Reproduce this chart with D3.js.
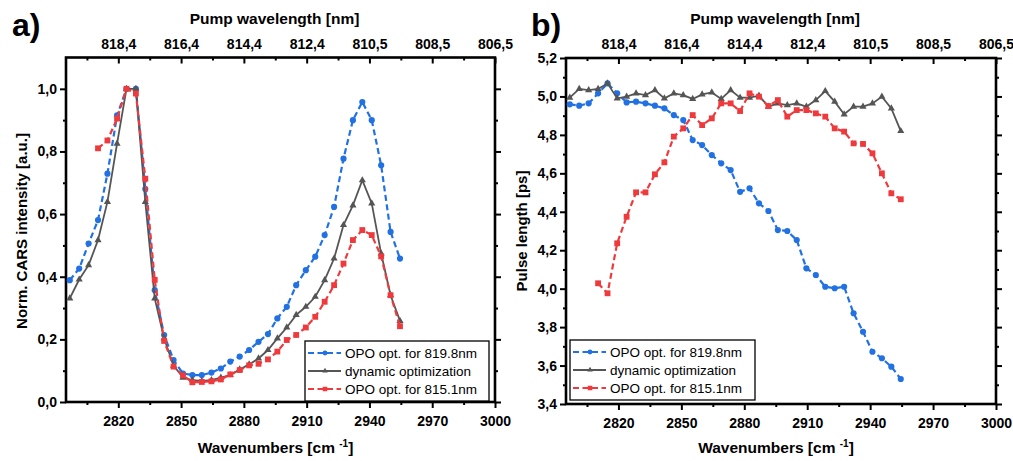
<!DOCTYPE html>
<html>
<head>
<meta charset="utf-8">
<script src="https://cdn.jsdelivr.net/npm/d3@7"></script>
<style>
  body { margin: 0; background: #fff; }
  svg { display: block; font-family: "Liberation Sans", Arial, sans-serif; }
</style>
</head>
<body>
<svg id="chart" width="1013" height="461"></svg>
<script>
// wavenumber grid of the measurement (cm^-1)
const wavenumbers = [2796.8, 2801.3, 2805.8, 2810.3, 2814.8, 2819.4, 2823.9, 2828.4, 2832.9, 2837.4,
  2841.9, 2846.4, 2850.9, 2855.4, 2859.9, 2864.5, 2869.0, 2873.5, 2878.0, 2882.5,
  2887.0, 2891.5, 2896.0, 2900.5, 2905.0, 2909.6, 2914.1, 2918.6, 2923.1, 2927.6,
  2932.1, 2936.6, 2941.1, 2945.6, 2950.1, 2954.6];
// the 815.1nm run starts later
const wavenumbers815 = wavenumbers.slice(3);

// a) normalized CARS intensity
const cars819 = [0.389, 0.426, 0.506, 0.581, 0.729, 0.915, 1.0, 1.0, 0.68, 0.357,
  0.214, 0.134, 0.091, 0.086, 0.086, 0.094, 0.107, 0.129, 0.145, 0.166,
  0.192, 0.217, 0.267, 0.304, 0.373, 0.421, 0.464, 0.533, 0.623, 0.777,
  0.900, 0.958, 0.900, 0.756, 0.543, 0.458];
const carsDynamic = [0.331, 0.391, 0.437, 0.517, 0.639, 0.825, 1.0, 1.0, 0.639, 0.331,
  0.203, 0.116, 0.078, 0.070, 0.067, 0.070, 0.078, 0.086, 0.104, 0.120,
  0.139, 0.166, 0.203, 0.238, 0.278, 0.304, 0.336, 0.389, 0.458, 0.565,
  0.628, 0.708, 0.634, 0.474, 0.341, 0.259];
const cars815 = [0.81, 0.835, 0.905, 1.0, 0.985, 0.713, 0.39,
  0.195, 0.113, 0.085, 0.063, 0.064, 0.066, 0.072, 0.088, 0.102, 0.117,
  0.122, 0.136, 0.161, 0.198, 0.214, 0.238, 0.272, 0.320, 0.373, 0.442,
  0.517, 0.549, 0.533, 0.465, 0.341, 0.242];

// b) pulse length (ps)
const pulse819 = [4.959, 4.952, 4.964, 5.016, 5.068, 5.016, 4.969, 4.973, 4.964, 4.952,
  4.938, 4.903, 4.877, 4.773, 4.747, 4.695, 4.652, 4.617, 4.504, 4.522,
  4.444, 4.404, 4.305, 4.300, 4.253, 4.106, 4.071, 4.010, 4.002, 4.010,
  3.872, 3.776, 3.672, 3.638, 3.594, 3.530];
const pulseDynamic = [4.994, 5.039, 5.033, 5.039, 5.068, 4.990, 4.999, 5.016, 5.007, 5.033,
  4.990, 5.016, 5.007, 4.987, 5.011, 5.021, 4.987, 5.033, 4.994, 4.994,
  5.004, 4.947, 4.964, 4.955, 4.964, 4.947, 4.981, 5.028, 4.973, 4.907,
  4.947, 4.947, 4.964, 4.999, 4.938, 4.820];
const pulse815 = [4.028, 3.976, 4.236, 4.374, 4.501, 4.501, 4.595,
  4.657, 4.791, 4.834, 4.903, 4.851, 4.886, 4.964, 4.964, 4.924, 5.016,
  4.999, 4.950, 4.981, 4.895, 4.929, 4.929, 4.912, 4.895, 4.834, 4.817,
  4.756, 4.753, 4.704, 4.600, 4.496, 4.465];

const seriesNames = ["OPO opt. for 819.8nm", "dynamic optimization", "OPO opt. for 815.1nm"];
const wavenumberTicks = [2820, 2850, 2880, 2910, 2940, 2970, 3000];
const wavenumberMinor = [2805, 2835, 2865, 2895, 2925, 2955, 2985];
const pumpTickLabels = ["818,4", "816,4", "814,4", "812,4", "810,5", "808,5", "806,5"];
const carsTicks = [0, 0.2, 0.4, 0.6, 0.8, 1.0];
const carsMinor = [0.1, 0.3, 0.5, 0.7, 0.9];
const pulseTicks = [3.4, 3.6, 3.8, 4.0, 4.2, 4.4, 4.6, 4.8, 5.0, 5.2];
const pulseMinor = [3.5, 3.7, 3.9, 4.1, 4.3, 4.5, 4.7, 4.9, 5.1];

const colors = ["#2271e3", "#555555", "#ef3a3d"];
const dashes = ["6,3.5", null, "6,3.5"];
const markers = [d3.symbolCircle, d3.symbolTriangle, d3.symbolSquare];
const markerSizes = [30, 22, 34];

const locale = d3.formatLocale({decimal: ",", thousands: ".", grouping: [3], currency: ["", ""]});
const fmt1 = locale.format(".1f");

const svg = d3.select("#chart");
svg.append("rect").attr("width", 1013).attr("height", 461).attr("fill", "#fff");

function drawPanel(p) {
  const x = d3.scaleLinear().domain([2795, 3000]).range([p.left, p.right]);
  const y = d3.scaleLinear().domain(p.yDomain).range([p.bottom, p.top]);
  const g = svg.append("g");

  function styleAxis(sel) {
    sel.select(".domain").remove();
    sel.selectAll("line").attr("stroke", "#000").attr("stroke-width", 2);
    sel.selectAll("text").attr("fill", "#000").style("font-size", "14px").style("font-weight", "bold");
  }

  // bottom
  g.append("g").attr("transform", `translate(0,${p.bottom})`)
    .call(d3.axisBottom(x).tickValues(wavenumberTicks).tickFormat(d3.format("d"))
      .tickSizeInner(6).tickSizeOuter(0).tickPadding(8))
    .call(styleAxis);
  g.append("g").attr("transform", `translate(0,${p.bottom})`)
    .call(d3.axisBottom(x).tickValues(wavenumberMinor).tickFormat("").tickSize(3))
    .call(styleAxis);

  // top (pump wavelength), ticks point inside
  g.append("g").attr("transform", `translate(0,${p.top})`)
    .call(d3.axisTop(x).tickValues(wavenumberTicks).tickFormat((d, i) => pumpTickLabels[i])
      .tickSizeInner(-6).tickSizeOuter(0).tickPadding(9))
    .call(styleAxis);
  g.append("g").attr("transform", `translate(0,${p.top})`)
    .call(d3.axisTop(x).tickValues(wavenumberMinor).tickFormat("").tickSize(-3))
    .call(styleAxis);

  // left
  g.append("g").attr("transform", `translate(${p.left},0)`)
    .call(d3.axisLeft(y).tickValues(p.yTicks).tickFormat(fmt1)
      .tickSizeInner(6).tickSizeOuter(0).tickPadding(3))
    .call(styleAxis);
  g.append("g").attr("transform", `translate(${p.left},0)`)
    .call(d3.axisLeft(y).tickValues(p.yMinor).tickFormat("").tickSize(3))
    .call(styleAxis);

  // right, no labels
  g.append("g").attr("transform", `translate(${p.right},0)`)
    .call(d3.axisRight(y).tickValues(p.yTicks).tickFormat("").tickSizeInner(6).tickSizeOuter(0))
    .call(styleAxis);
  g.append("g").attr("transform", `translate(${p.right},0)`)
    .call(d3.axisRight(y).tickValues(p.yMinor).tickFormat("").tickSize(3))
    .call(styleAxis);

  // frame
  g.append("rect")
    .attr("x", p.left).attr("y", p.top)
    .attr("width", p.right - p.left).attr("height", p.bottom - p.top)
    .attr("fill", "none").attr("stroke", "#000").attr("stroke-width", 2.6);

  // data
  const line = d3.line().x(d => x(d[0])).y(d => y(d[1]));
  p.series.forEach((s, k) => {
    const pts = s.x.map((v, i) => [v, s.y[i]]);
    g.append("path").datum(pts)
      .attr("fill", "none").attr("stroke", colors[k])
      .attr("stroke-width", k === 1 ? 1.8 : 2.2)
      .attr("stroke-dasharray", dashes[k])
      .attr("d", line);
    g.selectAll(null).data(pts).enter().append("path")
      .attr("transform", d => `translate(${x(d[0])},${y(d[1])})`)
      .attr("d", d3.symbol().type(markers[k]).size(markerSizes[k]))
      .attr("fill", colors[k]);
  });

  // titles
  g.append("text").attr("x", (p.left + p.right) / 2 - 6).attr("y", 24)
    .attr("text-anchor", "middle").style("font-size", "15.5px").style("font-weight", "bold")
    .text("Pump wavelength [nm]");
  const xt = g.append("text").attr("x", (p.left + p.right) / 2 - 5).attr("y", 453)
    .attr("text-anchor", "middle").style("font-size", "15.5px").style("font-weight", "bold");
  xt.append("tspan").text("Wavenumbers [cm ");
  xt.append("tspan").attr("dy", -6).style("font-size", "10px").text("-1");
  xt.append("tspan").attr("dy", 6).text("]");
  g.append("text")
    .attr("transform", `translate(${p.yTitleX},231) rotate(-90)`)
    .attr("text-anchor", "middle").attr("dy", "0.35em")
    .style("font-size", "15px").style("font-weight", "bold")
    .text(p.yTitle);
  g.append("text").attr("x", p.labelX).attr("y", 36)
    .style("font-size", "32px").style("font-weight", "bold").text(p.label);

  // legend
  const lg = g.append("g").attr("transform", `translate(${p.legend[0]},${p.legend[1]})`);
  lg.append("rect").attr("width", p.legend[2]).attr("height", 60)
    .attr("fill", "#fff").attr("stroke", "#000").attr("stroke-width", 1.3);
  seriesNames.forEach((name, k) => {
    const ry = 12 + k * 18;
    lg.append("line").attr("x1", 3).attr("x2", 36).attr("y1", ry).attr("y2", ry)
      .attr("stroke", colors[k]).attr("stroke-width", k === 1 ? 1.8 : 2)
      .attr("stroke-dasharray", dashes[k]);
    lg.append("path").attr("transform", `translate(20,${ry})`)
      .attr("d", d3.symbol().type(markers[k]).size(markerSizes[k] * 0.6))
      .attr("fill", colors[k]);
    lg.append("text").attr("x", 40).attr("y", ry).attr("dy", "0.35em")
      .style("font-size", "13.5px").text(name);
  });
}

drawPanel({
  left: 66, right: 495, top: 57.5, bottom: 402,
  yDomain: [0, 1.1], yTicks: carsTicks, yMinor: carsMinor,
  yTitle: "Norm. CARS intensity [a.u.]", yTitleX: 22,
  label: "a)", labelX: 12,
  legend: [305, 341, 184],
  series: [
    {x: wavenumbers, y: cars819},
    {x: wavenumbers, y: carsDynamic},
    {x: wavenumbers815, y: cars815}
  ]
});

drawPanel({
  left: 566, right: 996, top: 58, bottom: 404,
  yDomain: [3.4, 5.2], yTicks: pulseTicks, yMinor: pulseMinor,
  yTitle: "Pulse length [ps]", yTitleX: 522,
  label: "b)", labelX: 531,
  legend: [570, 340, 185],
  series: [
    {x: wavenumbers, y: pulse819},
    {x: wavenumbers, y: pulseDynamic},
    {x: wavenumbers815, y: pulse815}
  ]
});
</script>
</body>
</html>
